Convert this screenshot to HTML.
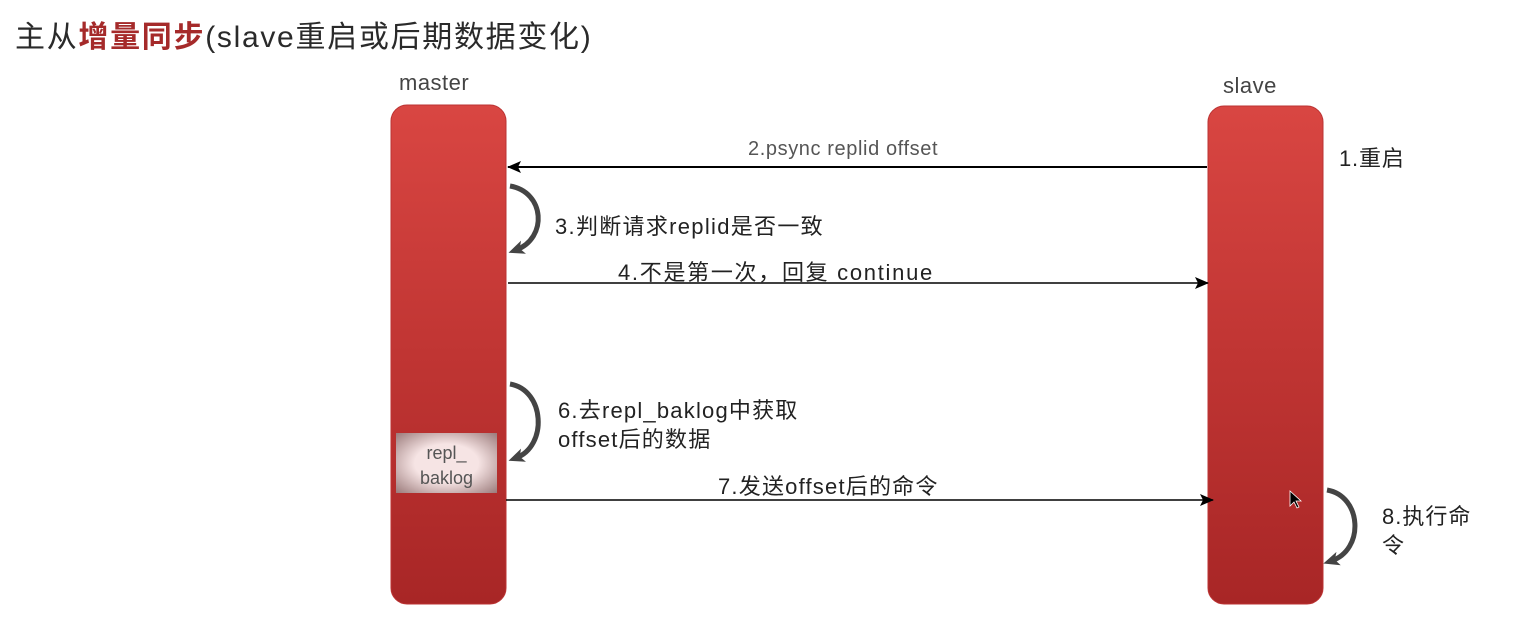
<!DOCTYPE html>
<html><head><meta charset="utf-8"><style>
html,body{margin:0;padding:0;background:#fff;}
body{width:1527px;height:636px;position:relative;overflow:hidden;font-family:"Liberation Sans","Noto Sans CJK SC",sans-serif;color:#222;}
.t{position:absolute;white-space:nowrap;}
.l{font-size:22px;letter-spacing:0.8px;}
</style></head><body>
<div class="t" style="left:15px;top:12px;font-size:30px;letter-spacing:1.7px;color:#2a2a2a;">主从<b style="color:#a52a2a;">增量同步</b>(slave重启或后期数据变化)</div>
<svg width="1527" height="636" style="position:absolute;left:0;top:0">
<defs>
<linearGradient id="g" x1="0" y1="0" x2="0" y2="1">
<stop offset="0" stop-color="#d94642"/><stop offset="0.5" stop-color="#c03533"/><stop offset="1" stop-color="#a82626"/>
</linearGradient>
<radialGradient id="p" cx="0.5" cy="0.5" r="0.7">
<stop offset="0.45" stop-color="#f6e4e4"/><stop offset="1" stop-color="#9c7c7c"/>
</radialGradient>
<marker id="a" markerWidth="14" markerHeight="12" refX="13" refY="6" orient="auto" markerUnits="userSpaceOnUse"><path d="M0,0 L14,6 L0,12 L3,6 z" fill="#000"/></marker>
<marker id="c" markerWidth="16" markerHeight="16" refX="8" refY="8" orient="auto" markerUnits="userSpaceOnUse"><path d="M0,1 L16,8 L0,15 L4,8 z" fill="#444"/></marker>
</defs>
<rect x="391" y="105" width="115" height="499" rx="16" fill="url(#g)" stroke="#b33" stroke-width="1"/>
<rect x="1208" y="106" width="115" height="498" rx="16" fill="url(#g)" stroke="#b33" stroke-width="1"/>
<rect x="396" y="433" width="101" height="60" fill="url(#p)"/>
<line x1="1207" y1="167" x2="508" y2="167" stroke="#000" stroke-width="2" marker-end="url(#a)"/>
<line x1="508" y1="283" x2="1208" y2="283" stroke="#000" stroke-width="1.5" marker-end="url(#a)"/>
<line x1="506" y1="500" x2="1213" y2="500" stroke="#000" stroke-width="1.5" marker-end="url(#a)"/>
<path d="M510,186 C545,192 548,238 516,250" fill="none" stroke="#444" stroke-width="5" marker-end="url(#c)"/>
<path d="M510,384 C545,390 548,446 516,458" fill="none" stroke="#444" stroke-width="5" marker-end="url(#c)"/>
<path d="M1327,490 C1362,496 1365,550 1331,561" fill="none" stroke="#444" stroke-width="5" marker-end="url(#c)"/>
<path d="M1290,491 L1290,506 L1294,502 L1297,508 L1299,507 L1296,501 L1301,501 z" fill="#000" stroke="#fff" stroke-width="0.8"/>
</svg>
<div class="t" style="left:399px;top:70px;font-size:22px;letter-spacing:0.5px;color:#444;">master</div>
<div class="t" style="left:1223px;top:73px;font-size:22px;letter-spacing:0.5px;color:#444;">slave</div>
<div class="t l" style="left:1339px;top:141px;">1.重启</div>
<div class="t" style="left:748px;top:138px;font-size:20px;letter-spacing:0.6px;color:#555;">2.psync replid offset</div>
<div class="t l" style="left:555px;top:209px;letter-spacing:1.3px;">3.判断请求replid是否一致</div>
<div class="t l" style="left:618px;top:255px;letter-spacing:1.7px;">4.不是第一次，回复 continue</div>
<div class="t l" style="left:558px;top:396px;line-height:29px;letter-spacing:1.2px;">6.去repl_baklog中获取<br>offset后的数据</div>
<div class="t" style="left:396px;top:441px;width:101px;text-align:center;font-size:18px;line-height:25px;color:#555;">repl_<br>baklog</div>
<div class="t l" style="left:718px;top:469px;letter-spacing:1.2px;">7.发送offset后的命令</div>
<div class="t l" style="left:1382px;top:502px;line-height:29px;letter-spacing:1px;">8.执行命<br>令</div>
</body></html>
